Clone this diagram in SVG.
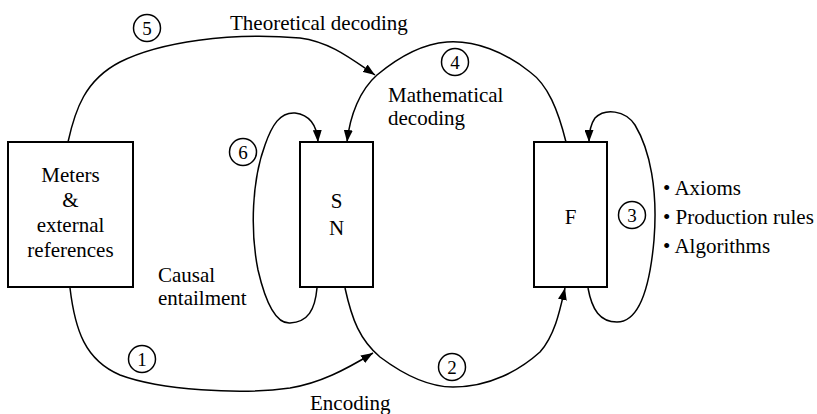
<svg xmlns="http://www.w3.org/2000/svg" width="817" height="414" viewBox="0 0 817 414" font-family="Liberation Serif, Times New Roman, serif">
<style>
text{font-family:'Liberation Serif','Times New Roman',serif;font-size:21px;fill:#000}
.box{fill:#fff;stroke:#000;stroke-width:2}
.c{fill:none;stroke:#000;stroke-width:1.5}
.n{fill:#fff;stroke:#000;stroke-width:1.5}
.num{font-size:19px;text-anchor:middle}
.mid{text-anchor:middle}
</style>
<defs>
<marker id="ah" viewBox="0 0 12 9" refX="12" refY="4.5" markerWidth="12" markerHeight="9" markerUnits="userSpaceOnUse" orient="auto">
<path d="M0,0 L12,4.5 L0,9 z" fill="#000"/>
</marker>
</defs>
<g id="connectors">
<path class="c" d="M68,142 C75,110 85,80 120,62 C160,42 230,32 300,38 C330,42 350,58 375,75" marker-end="url(#ah)"/>
<path class="c" d="M566,142 C558,110 548,85 530,72 C505,52 475,40 447,42 C420,44 395,60 377,75 C360,90 350,115 347,142" marker-end="url(#ah)"/>
<path class="c" d="M317,288 C315,310 308,322 290,323 C275,324 265,300 258,270 C250,230 252,180 265,145 C272,125 280,112 295,113 C310,115 317,125 318,142" marker-end="url(#ah)"/>
<path class="c" d="M588,288 C592,310 600,322 617,322 C640,322 650,285 654,240 C658,190 650,150 635,125 C625,110 605,108 595,118 C590,125 589,132 589,142" marker-end="url(#ah)"/>
<path class="c" d="M70,288 C75,330 85,360 120,375 C160,390 240,395 290,388 C320,383 345,370 373,353" marker-end="url(#ah)"/>
<path class="c" d="M345,288 C352,320 360,340 380,357 C400,372 425,387 453,387 C490,387 520,370 540,352 C555,335 560,310 565,288" marker-end="url(#ah)"/>
</g>
<g id="meters">
<rect class="box" x="8" y="142" width="125" height="145"/>
<text class="mid" x="70.5" y="182">Meters</text>
<text class="mid" x="70.5" y="207">&amp;</text>
<text class="mid" x="70.5" y="232">external</text>
<text class="mid" x="70.5" y="257">references</text>
</g>
<g id="sn">
<rect class="box" x="300" y="142" width="73" height="145"/>
<text class="mid" x="336.5" y="208">S</text>
<text class="mid" x="336.5" y="235">N</text>
</g>
<g id="f">
<rect class="box" x="534" y="142" width="73" height="145"/>
<text class="mid" x="570.5" y="224">F</text>
</g>
<g id="labels">
<text x="230" y="30">Theoretical decoding</text>
<text x="388" y="102">Mathematical</text>
<text x="388" y="125">decoding</text>
<text x="158" y="282">Causal</text>
<text x="158" y="305">entailment</text>
<text x="310" y="410">Encoding</text>
<text x="663" y="195">• Axioms</text>
<text x="663" y="224">• Production rules</text>
<text x="663" y="253">• Algorithms</text>
</g>
<g id="n5"><circle class="n" cx="147" cy="28" r="13.5"/><text class="num" x="147" y="34.5">5</text></g>
<g id="n4"><circle class="n" cx="455" cy="62" r="13.5"/><text class="num" x="455" y="68.5">4</text></g>
<g id="n6"><circle class="n" cx="243" cy="152" r="13.5"/><text class="num" x="243" y="158.5">6</text></g>
<g id="n3"><circle class="n" cx="632" cy="215" r="13.5"/><text class="num" x="632" y="221.5">3</text></g>
<g id="n1"><circle class="n" cx="142" cy="359" r="13.5"/><text class="num" x="142" y="365.5">1</text></g>
<g id="n2"><circle class="n" cx="452" cy="367" r="13.5"/><text class="num" x="452" y="373.5">2</text></g>
</svg>
